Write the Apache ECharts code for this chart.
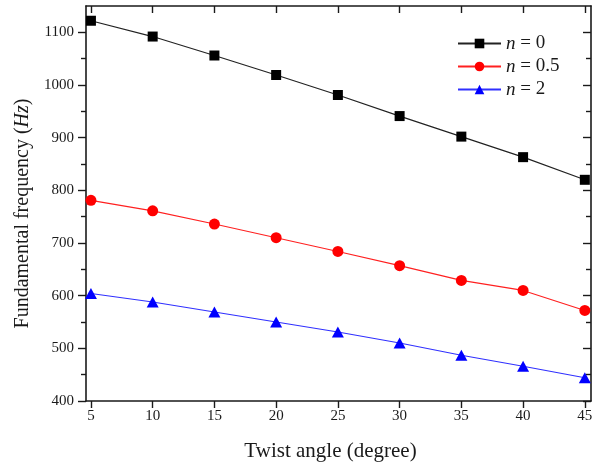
<!DOCTYPE html>
<html>
<head>
<meta charset="utf-8">
<script src="https://cdn.jsdelivr.net/npm/echarts@6/dist/echarts.min.js"></script>
<style>
  html, body { margin: 0; padding: 0; background: #ffffff; }
  #chart { width: 598px; height: 467px; }
</style>
</head>
<body>
<div id="chart"></div>
<script>
// Twist angle (degrees)
var twistAngles = [5, 10, 15, 20, 25, 30, 35, 40, 45];
// Fundamental frequency (Hz) for each gradient index n
var freqN0  = [1122, 1092, 1056, 1019, 981, 941, 902, 863, 820];
var freqN05 = [781, 761, 736, 710, 684, 657, 629, 610, 572];
var freqN2  = [604, 588, 569, 550, 531, 510, 487, 466, 444];
// Tick labels
var xTicks = [5, 10, 15, 20, 25, 30, 35, 40, 45];
var yTicks = [400, 500, 600, 700, 800, 900, 1000, 1100];
var yMinorTicks = [450, 550, 650, 750, 850, 950, 1050];
var seriesNames = ['n = 0', 'n = 0.5', 'n = 2'];

var FONT = '"Liberation Serif", "Times New Roman", serif';
var INK = '#1a1a1a';

function pairs(xs, ys) {
  return xs.map(function (x, i) { return [x, ys[i]]; });
}

var X_MIN = 4.6, X_MAX = 45.5, Y_MIN = 400, Y_MAX = 1150;

function yAxisDef(pos, ticks, len, inside, labels, line) {
  return {
    type: 'value', position: pos, min: Y_MIN, max: Y_MAX,
    axisLine: { show: line, onZero: false, lineStyle: { color: INK, width: 1.6 } },
    axisTick: { show: true, customValues: ticks, length: len, inside: inside,
                lineStyle: { color: INK, width: 1.4 } },
    axisLabel: labels ? {
      show: true, customValues: ticks, fontFamily: FONT, fontSize: 15, color: INK, margin: 12,
      formatter: function (v) { return String(v); }
    } : { show: false },
    splitLine: { show: false }
  };
}

var chart = echarts.init(document.getElementById('chart'), null, { renderer: 'canvas' });

chart.setOption({
  backgroundColor: '#ffffff',
  animation: false,
  grid: { left: 86, right: 7, top: 6, bottom: 63, containLabel: false },
  legend: {
    orient: 'vertical',
    left: 452, top: 29,
    itemWidth: 43, itemHeight: 12, itemGap: 4,
    data: seriesNames,
    formatter: function (name) {
      return '{i|n}' + name.slice(1);
    },
    textStyle: {
      fontFamily: FONT, fontSize: 19, color: INK, lineHeight: 19,
      rich: { i: { fontFamily: FONT, fontSize: 19, fontStyle: 'italic', color: INK } }
    }
  },
  xAxis: [
    {
      type: 'value', position: 'bottom', min: X_MIN, max: X_MAX,
      name: 'Twist angle (degree)', nameLocation: 'middle', nameGap: 40,
      nameTextStyle: { fontFamily: FONT, fontSize: 21, color: INK, padding: [0, 16, 0, 0] },
      axisLine: { show: true, onZero: false, lineStyle: { color: INK, width: 1.6 } },
      axisTick: { show: true, customValues: xTicks, length: 7, lineStyle: { color: INK, width: 1.4 } },
      axisLabel: { show: true, customValues: xTicks, fontFamily: FONT, fontSize: 15, color: INK, margin: 8 },
      splitLine: { show: false }
    },
    {
      type: 'value', position: 'top', min: X_MIN, max: X_MAX,
      axisLine: { show: true, onZero: false, lineStyle: { color: INK, width: 1.6 } },
      axisTick: { show: true, customValues: xTicks, length: 7, inside: true, lineStyle: { color: INK, width: 1.4 } },
      axisLabel: { show: false },
      splitLine: { show: false }
    }
  ],
  yAxis: [
    Object.assign(yAxisDef('left', yTicks, 8, false, true, true), {
      name: 'Fundamental frequency ({i|Hz})', nameLocation: 'middle', nameGap: 53,
      nameTextStyle: {
        fontFamily: FONT, fontSize: 20, color: INK, padding: [0, 20, 0, 0],
        rich: { i: { fontFamily: FONT, fontSize: 20, fontStyle: 'italic', color: INK } }
      }
    }),
    yAxisDef('left', yMinorTicks, 5, false, false, false),
    yAxisDef('right', yTicks, 8, true, false, true),
    yAxisDef('right', yMinorTicks, 5, true, false, false)
  ],
  series: [
    {
      name: seriesNames[0], type: 'line', xAxisIndex: 0, yAxisIndex: 0,
      data: pairs(twistAngles, freqN0),
      symbol: 'rect', symbolSize: 10,
      lineStyle: { color: '#222222', width: 1.2 },
      itemStyle: { color: '#000000' }
    },
    {
      name: seriesNames[1], type: 'line', xAxisIndex: 0, yAxisIndex: 0,
      data: pairs(twistAngles, freqN05),
      symbol: 'circle', symbolSize: 11,
      lineStyle: { color: '#ff2020', width: 1.1 },
      itemStyle: { color: '#ff0000' }
    },
    {
      name: seriesNames[2], type: 'line', xAxisIndex: 0, yAxisIndex: 0,
      data: pairs(twistAngles, freqN2),
      symbol: 'triangle', symbolSize: [12, 11],
      lineStyle: { color: '#3030ff', width: 1.1 },
      itemStyle: { color: '#0000ff' }
    }
  ]
});
</script>
</body>
</html>
